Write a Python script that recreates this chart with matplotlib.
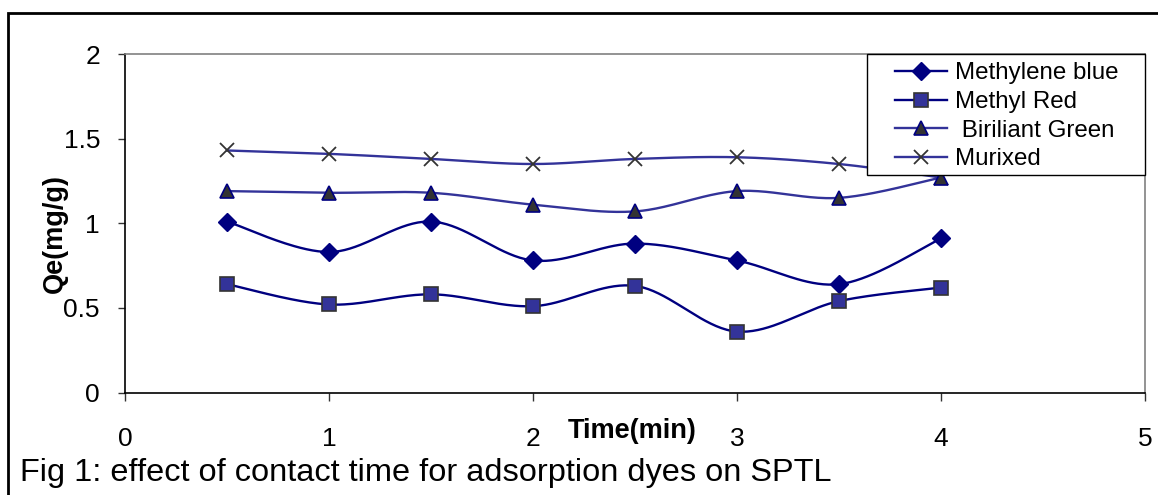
import numpy as np
import matplotlib
matplotlib.use("Agg")
import matplotlib.pyplot as plt
from matplotlib.patches import Rectangle

plt.rcParams['font.family'] = ['Liberation Sans', 'DejaVu Sans']

# data
time_min = [0.5, 1.0, 1.5, 2.0, 2.5, 3.0, 3.5, 4.0]
methylene_blue = [1.01, 0.83, 1.01, 0.78, 0.88, 0.78, 0.64, 0.91]
methyl_red = [0.64, 0.52, 0.58, 0.51, 0.63, 0.36, 0.54, 0.62]
biriliant_green = [1.19, 1.18, 1.18, 1.11, 1.07, 1.19, 1.15, 1.27]
murixed = [1.43, 1.41, 1.38, 1.35, 1.38, 1.39, 1.35, 1.27]

x_ticks = [0, 1, 2, 3, 4, 5]
y_ticks = [0, 0.5, 1, 1.5, 2]
y_ticklabels = ['0', '0.5', '1', '1.5', '2']


def smooth(x, y, n=40):
    """Excel-like smoothed line (Catmull-Rom as cubic Bezier)."""
    x = np.asarray(x, float)
    y = np.asarray(y, float)
    px = np.concatenate([[x[0]], x, [x[-1]]])
    py = np.concatenate([[y[0]], y, [y[-1]]])
    t = np.linspace(0, 1, n)[:, None]
    xs, ys = [], []
    for i in range(1, len(px) - 2):
        p0 = np.array([px[i], py[i]])
        p3 = np.array([px[i + 1], py[i + 1]])
        c1 = p0 + (np.array([px[i + 1], py[i + 1]]) - np.array([px[i - 1], py[i - 1]])) / 6
        c2 = p3 - (np.array([px[i + 2], py[i + 2]]) - np.array([px[i], py[i]])) / 6
        b = ((1 - t) ** 3) * p0 + 3 * ((1 - t) ** 2) * t * c1 + 3 * (1 - t) * t ** 2 * c2 + t ** 3 * p3
        xs.append(b[:, 0])
        ys.append(b[:, 1])
    return np.concatenate(xs), np.concatenate(ys)


W, H = 1158, 495
fig = plt.figure(figsize=(W / 100, H / 100), dpi=100)
ax_l, ax_r, ax_b, ax_t = 125, 1145, 392.5, 54
ax = fig.add_axes([ax_l / W, 1 - ax_b / H, (ax_r - ax_l) / W, (ax_b - ax_t) / H])

series = [
    ('Methylene blue', methylene_blue,
     dict(color='#000080', marker='D', mfc='#000080', mec='#000080', ms=9.5, z=4)),
    ('Methyl Red', methyl_red,
     dict(color='#000080', marker='s', mfc='#333399', mec='#333333', ms=9.5, mew=1.2, z=4)),
    (' Biriliant Green', biriliant_green,
     dict(color='#333399', marker='^', mfc='#333333', mec='#000080', ms=10, mew=1.2, z=5)),
    ('Murixed', murixed,
     dict(color='#333399', marker='x', mfc='#333333', mec='#333333', ms=10, mew=1.3, z=4)),
]

handles = []
for label, vals, st in series:
    sx, sy = smooth(time_min, vals)
    ax.plot(sx, sy, color=st['color'], lw=1.7, zorder=3)
    ax.plot(time_min, vals, ls='none', marker=st['marker'], ms=st['ms'],
            mfc=st['mfc'], mec=st['mec'], mew=st.get('mew', 1.0), zorder=st['z'])
    h, = ax.plot([], [], color=st['color'], lw=1.7, marker=st['marker'],
                 ms=st['ms'], mfc=st['mfc'], mec=st['mec'], mew=st.get('mew', 1.0))
    handles.append((h, label))

ax.set_xlim(0, 5)
ax.set_ylim(0, 2)
ax.set_xticks(x_ticks)
ax.set_xticklabels([str(v) for v in x_ticks])
ax.set_yticks(y_ticks)
ax.set_yticklabels(y_ticklabels)
ax.tick_params(axis='y', direction='out', length=5, width=1, pad=13,
               labelsize=19, color='#333333')
ax.tick_params(axis='x', direction='out', length=6, width=1, pad=19,
               labelsize=19, color='#333333')

for side in ('top', 'right'):
    ax.spines[side].set_color('#808080')
    ax.spines[side].set_linewidth(1.2)
for side in ('left', 'bottom'):
    ax.spines[side].set_color('#000000')
    ax.spines[side].set_linewidth(1.2)

# legend box (frame drawn separately so horizontal and vertical padding differ)
box_l, box_b = 867, 175
ax.add_patch(Rectangle(((box_l - ax_l) / (ax_r - ax_l), (ax_b - box_b) / (ax_b - ax_t)),
                       (ax_r - box_l) / (ax_r - ax_l), (box_b - ax_t) / (ax_b - ax_t),
                       transform=ax.transAxes, facecolor='white', edgecolor='black',
                       lw=1.0, zorder=9, clip_on=False))
leg = ax.legend([h for h, _ in handles], [l for _, l in handles],
                loc='upper left',
                bbox_to_anchor=((895 - ax_l) / (ax_r - ax_l), (ax_b - 62.5) / (ax_b - ax_t)),
                borderaxespad=0, borderpad=0, fontsize=17.4, frameon=False,
                handlelength=2.15, handletextpad=0.33, labelspacing=0.27)
leg.set_zorder(10)

fig.text(55 / W, 1 - 234 / H, 'Qe(mg/g)', rotation=90, ha='center', va='center',
         fontsize=19.5, fontweight='bold')
fig.text(632 / W, 1 - 431 / H, 'Time(min)', ha='center', va='center',
         fontsize=19.5, fontweight='bold')
fig.text(20 / W, 1 - 473 / H, 'Fig 1: effect of contact time for adsorption dyes on SPTL',
         ha='left', va='center', fontsize=23.4)

fig.add_artist(Rectangle((8 / W, -0.5), 2.0, 0.5 + (1 - 13 / H), transform=fig.transFigure,
                         fill=False, edgecolor='black', lw=2))

fig.savefig('out.png', dpi=100)
